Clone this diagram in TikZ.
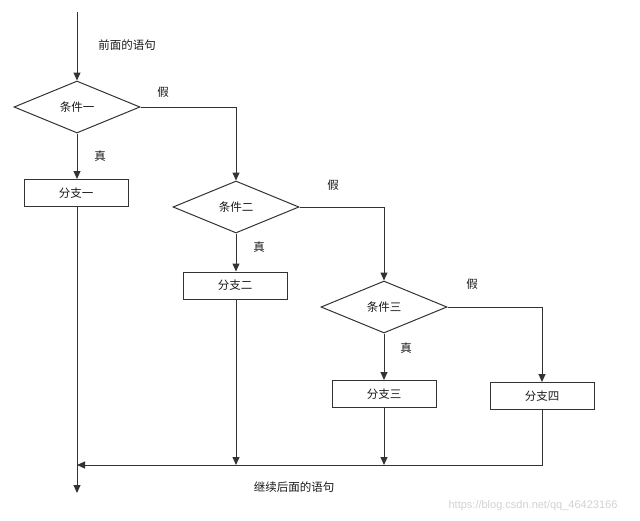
\documentclass[tikz,border=0pt]{standalone}
\usepackage{fontspec}
\newfontfamily\cjk{Noto Sans CJK SC}
\usetikzlibrary{shapes.geometric,arrows.meta}
\begin{document}
\begin{tikzpicture}[x=1pt,y=-1pt,
  line width=1pt,
  every node/.style={font=\cjk\fontsize{11.5}{13}\selectfont, text=black!90},
  cond/.style={draw=black!80, diamond, aspect=2.5, minimum width=126pt, minimum height=52pt, inner sep=0pt},
  branch/.style={draw=black!80, rectangle, minimum width=104pt, minimum height=27pt, inner sep=0pt},
  conn/.style={draw=black!80, -{Triangle[length=8pt,width=7pt]}},
  lbl/.style={inner sep=0pt}
]
\useasboundingbox (0,0) rectangle (640,520);
\coordinate (start) at (77,12);
\node[cond] (c1) at (77,107) {条件一};
\node[branch] (b1) at (76,193) {分支一};
\node[cond] (c2) at (236,207) {条件二};
\node[branch] (b2) at (235,285.5) {分支二};
\node[cond] (c3) at (384,307) {条件三};
\node[branch] (b3) at (384,394) {分支三};
\node[branch] (b4) at (542,396) {分支四};
\coordinate (k1) at (236,107);
\coordinate (k2) at (384,207);
\coordinate (k3) at (542,307);
\coordinate (m2) at (236,465);
\coordinate (m3) at (384,465);
\coordinate (m4) at (542,465);
\coordinate (m1) at (77,465);
\coordinate (end) at (77,493);

\draw[conn] (start) -- (c1.north);
\draw[conn] (c1.south) -- (b1.north -| c1.south);
\draw[conn] (c1.east) -- (k1) -- (c2.north);
\draw[conn] (c2.south) -- (b2.north -| c2.south);
\draw[conn] (c2.east) -- (k2) -- (c3.north);
\draw[conn] (c3.south) -- (b3.north);
\draw[conn] (c3.east) -- (k3) -- (b4.north);
\draw[conn] (b2.south -| c2.south) -- (m2);
\draw[conn] (b3.south) -- (m3);
\draw[conn] (b4.south) -- (m4) -- (m1);
\draw[conn] (b1.south -| c1.south) -- (end);

\node[lbl] (t0) at (127,45) {前面的语句};
\node[lbl] (f1) at (163,92) {假};
\node[lbl] (z1) at (100,156) {真};
\node[lbl] (f2) at (333,185) {假};
\node[lbl] (z2) at (259,247) {真};
\node[lbl] (f3) at (472,284) {假};
\node[lbl] (z3) at (406,348) {真};
\node[lbl] (t1) at (294,487) {继续后面的语句};
\node[lbl, font=\fontspec{Liberation Sans}\fontsize{11}{13}\selectfont, text=black!18] (wm) at (533,506) {https://blog.csdn.net/qq\_46423166};
\end{tikzpicture}
\end{document}
